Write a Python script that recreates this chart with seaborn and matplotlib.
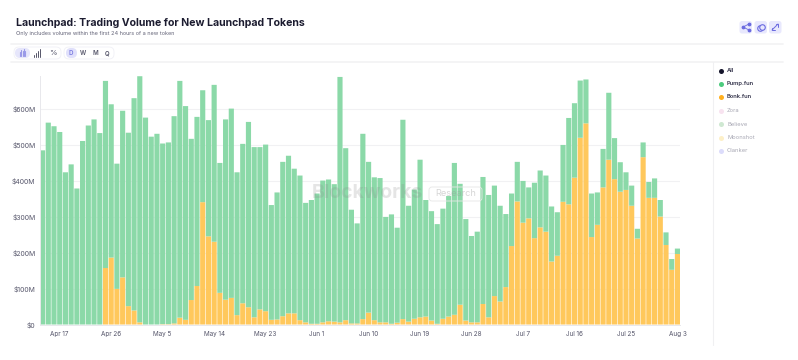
import pandas as pd
import matplotlib.pyplot as plt
import seaborn as sns
from matplotlib.patches import FancyBboxPatch

# $M per day
pump_fun = [
    484, 561, 551, 535, 423, 445, 378, 510, 553, 570, 532, 520, 426, 348, 463, 482,
    590, 684, 575, 522, 530, 502, 505, 576, 658, 594, 448, 470, 311, 323, 436, 361,
    501, 526, 397, 443, 515, 473, 451, 463, 319, 353, 429, 438, 402, 402, 332, 344,
    362, 394, 394, 382, 682, 478, 316, 278, 515, 419, 397, 401, 293, 304, 264, 554,
    322, 359, 438, 324, 304, 277, 306, 335, 422, 336, 282, 240, 252, 353, 340, 307,
    266, 203, 146, 110, 116, 86, 154, 158, 156, 153, 121, 158, 240, 207, 159, 122,
    121, 90, 107, 186, 114, 82, 49, 56, 27, 41, 44, 54, 46, 35, 30, 15,
]
bonk_fun = [
    0, 0, 0, 0, 0, 0, 0, 0, 0, 0, 0, 157, 186, 99, 131, 51,
    39, 6, 0, 0, 0, 1, 1, 3, 19, 13, 68, 107, 340, 245, 230, 88,
    69, 74, 26, 59, 48, 20, 42, 37, 13, 14, 23, 31, 31, 12, 6, 2,
    2, 6, 9, 8, 6, 12, 3, 3, 15, 33, 12, 6, 6, 2, 5, 15,
    8, 16, 20, 22, 11, 2, 16, 22, 27, 55, 11, 6, 6, 57, 20, 79,
    64, 104, 218, 342, 283, 295, 240, 270, 258, 175, 191, 341, 334, 408, 519, 559,
    243, 277, 381, 458, 404, 369, 374, 330, 239, 465, 352, 352, 300, 221, 152, 196,
]
dates = pd.date_range("2025-04-14", periods=len(pump_fun), freq="D")
y_ticks = [0, 100, 200, 300, 400, 500, 600]
y_labels = ["$0", "$100M", "$200M", "$300M", "$400M", "$500M", "$600M"]
legend_names = ["All", "Pump.fun", "Bonk.fun", "Zora", "Believe", "Moonshot", "Clanker"]
legend_colors = ["#15152b", "#4ccb7e", "#ffb020", "#f8e3f0", "#cfe8d2", "#fdf0c8", "#dcdcfb"]
legend_text = ["#33334a", "#33334a", "#33334a", "#a8a8b4", "#a8a8b4", "#a8a8b4", "#a8a8b4"]

W, H = 798, 360


def main():
    sns.set_theme(style="white")
    plt.rcParams["font.family"] = ["Inter", "DejaVu Sans"]
    df = pd.DataFrame({"date": dates, "pump": pump_fun, "bonk": bonk_fun})

    fig = plt.figure(figsize=(W / 100, H / 100), dpi=100, facecolor="white")
    ax = fig.add_axes([39.7 / W, 1 - 324.5 / H, (680.3 - 39.7) / W, (324.5 - 75.5) / H])

    # stacked: bonk at the bottom, pump on top of it
    sns.barplot(data=df, x=df.index, y="bonk", color="#ffc85c", saturation=1, width=0.9, ax=ax)
    sns.barplot(data=df, x=df.index, y="pump", bottom=df["bonk"], color="#8bd9a8",
                saturation=1, width=0.9, ax=ax)
    # no pixel snapping, keeps the gaps even
    for patch in ax.patches:
        patch.set_snap(False)
        patch.set_linewidth(0)

    ax.set_xlim(-0.5, len(df) - 0.5)
    ax.set_ylim(0, 692)
    ax.set_xlabel("")
    ax.set_ylabel("")
    ax.set_yticks(y_ticks, y_labels)
    tick_pos = list(range(3, len(df), 9))
    ax.set_xticks(tick_pos, [f"{dates[i]:%b} {dates[i].day}" for i in tick_pos])
    ax.tick_params(axis="both", length=0, labelcolor="#55556a", pad=3)
    ax.tick_params(axis="y", labelsize=4.9)
    ax.tick_params(axis="x", labelsize=4.6, pad=5)
    ax.grid(axis="y", color="#f1f1f3", lw=0.8)
    ax.set_axisbelow(True)
    for name in ["top", "right"]:
        ax.spines[name].set_visible(False)
    ax.spines["left"].set_color("#e8e8ec")
    ax.spines["bottom"].set_color("#e8e8ec")
    ax.spines["left"].set_linewidth(0.7)
    ax.spines["bottom"].set_linewidth(0.7)

    # page chrome in pixel coordinates
    over = fig.add_axes([0, 0, 1, 1], facecolor="none")
    over.set_xlim(0, W)
    over.set_ylim(H, 0)
    over.axis("off")

    over.text(16, 23, "Launchpad: Trading Volume for New Launchpad Tokens", fontsize=7.6,
              fontweight="bold", color="#1c1c30", va="center")
    over.text(16, 33.5, "Only includes volume within the first 24 hours of a new token",
              fontsize=4.0, color="#66667a", va="center")

    over.plot([11, 783], [43.5, 43.5], color="#f2f2f4", lw=1.2)
    over.plot([11, 783], [61.5, 61.5], color="#f2f2f4", lw=1.2)
    over.plot([712.5, 712.5], [62, 345], color="#f0f0f2", lw=0.8)

    def box(x, y, w, h, face, edge="none", r=3):
        over.add_patch(FancyBboxPatch((x + r, y + r), w - 2 * r, h - 2 * r,
                                      boxstyle=f"round,pad={r}", fc=face, ec=edge, lw=0.6))

    # toolbar
    box(14, 47, 47, 12, "white", "#f0f0f6", r=5)
    box(64, 47, 50, 12, "white", "#f0f0f6", r=5)
    box(15, 48, 15, 10, "#e6e6fb", r=5)
    box(66, 48, 11, 10, "#e0e0fb", r=5)
    for i, h in enumerate([4, 6, 5, 7, 5]):
        over.plot([20 + i * 1.3] * 2, [56, 56 - h], color="#9a9ae8", lw=0.8)
    for i, h in enumerate([2, 4, 6, 8]):
        over.plot([34 + i * 2] * 2, [57, 57 - h], color="#55556a", lw=0.7)
    over.text(52.5, 53, "%", fontsize=5.5, color="#55556a", ha="center", va="center")
    for x, label, c in [(71, "D", "#7a7ae0"), (83, "W", "#55556a"), (95, "M", "#55556a"), (107, "Q", "#55556a")]:
        over.text(x, 53, label, fontsize=4.4, fontweight="semibold", color=c, ha="center", va="center")

    # top right buttons
    for x in [739.5, 754.5, 769]:
        box(x, 21, 12.5, 12.5, "#e8e8fd", r=2.5)
    over.scatter([743, 749, 749], [27, 24, 30], s=3, color="#6a6ae0", zorder=3)
    over.plot([749, 743, 749], [24, 27, 30], color="#6a6ae0", lw=0.6, zorder=3)
    over.scatter([759.5, 762], [27.5, 26.5], s=16, facecolor="#e8e8fd", edgecolor="#6a6ae0", lw=0.8, zorder=3)
    over.plot([772, 778], [30, 24], color="#6a6ae0", lw=0.7, zorder=3)
    over.plot([775.5, 778, 778], [24, 24, 26.5], color="#6a6ae0", lw=0.7, zorder=3)
    over.plot([772, 772, 774.5], [27.5, 30, 30], color="#6a6ae0", lw=0.7, zorder=3)

    # legend
    legend_y = [70.5, 83.5, 96.5, 110.5, 124, 137.5, 151]
    for name, color, tc, y in zip(legend_names, legend_colors, legend_text, legend_y):
        over.scatter([721], [y], s=13, color=color, lw=0)
        over.text(727, y, name, fontsize=4.2, color=tc, va="center",
                  fontweight="semibold" if tc == "#33334a" else "normal")

    # watermark
    over.text(367, 193, "Blockworks", fontsize=14, fontweight="bold", color="#8a8a8a",
              alpha=0.22, ha="center", va="center")
    box(429, 187, 53, 14, "none", "#e6e6e6", r=3)
    over.text(456, 194, "Research", fontsize=6.6, color="#999999", alpha=0.4, ha="center", va="center")

    fig.savefig("out.png", dpi=100)


if __name__ == "__main__":
    main()
